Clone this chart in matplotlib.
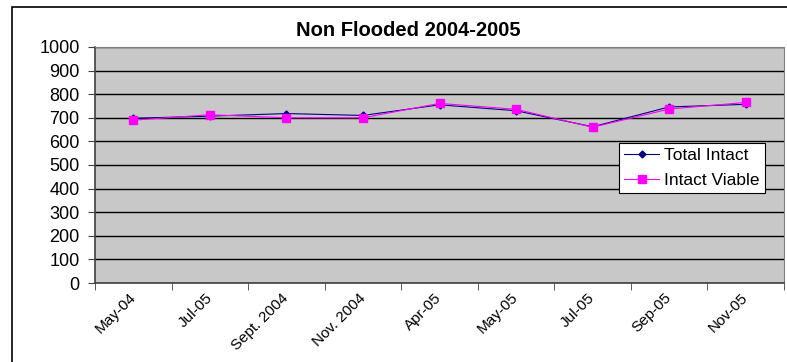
import matplotlib.pyplot as plt
import matplotlib.patches as patches
import matplotlib.transforms as mtransforms
import numpy as np

plt.rcParams['font.family'] = ['Liberation Sans', 'DejaVu Sans']

# data
months = ['May-04', 'Jul-05', 'Sept. 2004', 'Nov. 2004', 'Apr-05',
          'May-05', 'Jul-05', 'Sep-05', 'Nov-05']
total_intact = [698, 707, 718, 710, 755, 730, 662, 746, 757]
intact_viable = [690, 713, 700, 700, 761, 736, 660, 737, 765]

fig = plt.figure(figsize=(7.87, 3.62), dpi=100)
ax = fig.add_axes([95/787, 1-283/362, 689/787, 236/362])

x = np.arange(len(months))
ax.plot(x, total_intact, color='#000080', linewidth=0.8, marker='D',
        markersize=3.5, label='Total Intact')
ax.plot(x, intact_viable, color='#FF00FF', linewidth=0.8, marker='s',
        markersize=5.5, label='Intact Viable')

ax.set_facecolor('#C8C8C8')
ax.set_xlim(-0.5, len(months)-0.5)
ax.set_ylim(0, 1000)
ax.set_yticks(np.arange(0, 1001, 100))
ax.yaxis.grid(True, color='black', linewidth=1)
ax.set_axisbelow(True)

# labels centred on categories, tick marks between them
ax.set_xticks(x)
ax.set_xticklabels(months, rotation=45, ha='right', va='center',
                   rotation_mode='anchor')
shift = mtransforms.ScaledTranslation(-10/100, 0, fig.dpi_scale_trans)
for lbl in ax.get_xticklabels():
    lbl.set_transform(lbl.get_transform() + shift)
ax.set_xticks(np.arange(-0.5, len(months)), minor=True)
ax.tick_params(axis='x', which='major', length=0, labelsize=11, pad=9)
ax.tick_params(axis='x', which='minor', length=5, color='#404040')
ax.tick_params(axis='y', length=5, pad=6, labelsize=13, color='#404040')

for side in ['top', 'right']:
    ax.spines[side].set_color('#808080')
for side in ['left', 'bottom']:
    ax.spines[side].set_color('#404040')
    ax.spines[side].set_linewidth(1.2)

leg = ax.legend(loc='upper left', bbox_to_anchor=(524/689, (283-143)/236),
                fontsize=12.5, fancybox=False, framealpha=1,
                edgecolor='black', borderpad=0.3, handlelength=2.0,
                handletextpad=0.3, labelspacing=0.55, borderaxespad=0)
leg.get_frame().set_linewidth(0.8)

fig.text(408/787, 1-30/362, 'Non Flooded 2004-2005', ha='center',
         va='center', fontsize=14.5, fontweight='bold')

# outer chart border
fig.patches.append(patches.Rectangle((12/787, -0.1), 1.0, 1-7/362+0.1,
                                     transform=fig.transFigure, fill=False,
                                     edgecolor='black', linewidth=1.2))

fig.savefig('out.png', dpi=100)
